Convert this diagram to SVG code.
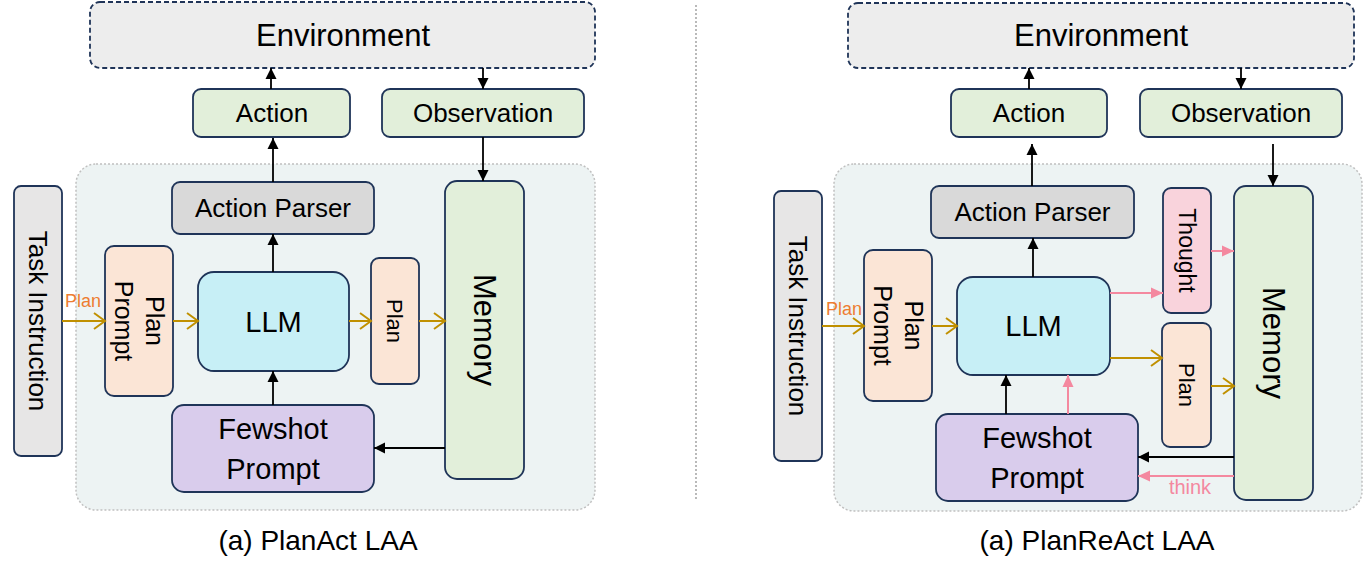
<svg xmlns="http://www.w3.org/2000/svg" width="1370" height="581" viewBox="0 0 1370 581">
<style>
text{font-family:"Liberation Sans",Arial,sans-serif;fill:#000;text-anchor:middle}
.box{stroke:#1F3458;stroke-width:1.8}
.env{fill:#EDEDED;stroke:#1F3458;stroke-width:1.8;stroke-dasharray:5 3}
.panel{fill:#EDF3F3;stroke:#C0C0C0;stroke-width:1.5;stroke-dasharray:2 2}
.green{fill:#E2EFDA}
.gray{fill:#D9D9D9}
.task{fill:#E7E6E6}
.peach{fill:#FBE5D6}
.cyan{fill:#C7EFF6}
.purple{fill:#D9CCEC}
.pink{fill:#F9D3DC}
.blk{stroke:#000;stroke-width:1.8;fill:none;marker-end:url(#ab)}
.gld{stroke:#C09000;stroke-width:2;fill:none;marker-end:url(#ag)}
.pnk{stroke:#F4889F;stroke-width:2;fill:none;marker-end:url(#ap)}
</style>
<defs>
<marker id="ab" markerUnits="userSpaceOnUse" markerWidth="12" markerHeight="12" viewBox="0 0 12 12" refX="11" refY="6" orient="auto"><path d="M0,0.5 L11,6 L0,11.5 Z" fill="#000"/></marker>
<marker id="ag" markerUnits="userSpaceOnUse" markerWidth="14" markerHeight="18" viewBox="0 0 14 18" refX="12" refY="9" orient="auto"><path d="M1,1 L12,9 L1,17" fill="none" stroke="#C09000" stroke-width="2"/></marker>
<marker id="ap" markerUnits="userSpaceOnUse" markerWidth="13" markerHeight="12" viewBox="0 0 13 12" refX="12" refY="6" orient="auto"><path d="M0,0.5 L12,6 L0,11.5 Z" fill="#F4889F"/></marker>
</defs>

<line x1="696" y1="5" x2="696" y2="500" stroke="#8C8C8C" stroke-width="1.2" stroke-dasharray="2 2"/>

<!-- Left panel -->
<rect class="panel" x="76" y="164" width="519" height="346" rx="20"/>
<g id="env-l"><rect class="env" x="90" y="2" width="505" height="66" rx="10"/><text x="343" y="46" font-size="31">Environment</text></g>
<g id="action-l"><rect class="box green" x="193" y="89" width="157" height="48" rx="8"/><text x="272" y="122" font-size="26">Action</text></g>
<g id="obs-l"><rect class="box green" x="382" y="89" width="202" height="48" rx="8"/><text x="483" y="122" font-size="26">Observation</text></g>
<g id="parser-l"><rect class="box gray" x="172" y="182" width="202" height="52" rx="8"/><text x="273" y="217" font-size="26">Action Parser</text></g>
<g id="memory-l"><rect class="box green" x="445" y="181" width="79" height="298" rx="12"/><text transform="translate(484.5,330) rotate(90)" x="0" y="11" font-size="31">Memory</text></g>
<g id="task-l"><rect class="box task" x="14" y="186" width="48" height="270" rx="7"/><text transform="translate(38,321) rotate(90)" x="0" y="9" font-size="26">Task Instruction</text></g>
<g id="planprompt-l"><rect class="box peach" x="105" y="246" width="68" height="150" rx="9"/><text transform="translate(139,321) rotate(90)" font-size="25"><tspan x="0" y="-7">Plan</tspan><tspan x="0" y="24">Prompt</tspan></text></g>
<g id="llm-l"><rect class="box cyan" x="198" y="272" width="151" height="99" rx="16"/><text x="273.5" y="332" font-size="29">LLM</text></g>
<g id="plan-l"><rect class="box peach" x="371" y="258" width="48" height="126" rx="8"/><text transform="translate(395,321) rotate(90)" x="0" y="8" font-size="22">Plan</text></g>
<g id="fewshot-l"><rect class="box purple" x="172" y="405" width="202" height="87" rx="12"/><text x="273" y="439" font-size="29">Fewshot</text><text x="273" y="479" font-size="29">Prompt</text></g>
<text x="83" y="307" font-size="18" style="fill:#ED7D31">Plan</text>
<text x="318" y="550" font-size="28">(a) PlanAct LAA</text>

<!-- Right panel -->
<rect class="panel" x="834" y="164" width="528" height="347" rx="20"/>
<g id="env-r"><rect class="env" x="848" y="3" width="506" height="65" rx="10"/><text x="1101" y="46" font-size="31">Environment</text></g>
<g id="action-r"><rect class="box green" x="951" y="89" width="156" height="48" rx="8"/><text x="1029" y="122" font-size="26">Action</text></g>
<g id="obs-r"><rect class="box green" x="1140" y="89" width="202" height="48" rx="8"/><text x="1241" y="122" font-size="26">Observation</text></g>
<g id="parser-r"><rect class="box gray" x="931" y="186" width="203" height="52" rx="8"/><text x="1032.5" y="221" font-size="26">Action Parser</text></g>
<g id="thought-r"><rect class="box pink" x="1163" y="188" width="48" height="125" rx="8"/><text transform="translate(1187,250.5) rotate(90)" x="0" y="8" font-size="23">Thought</text></g>
<g id="memory-r"><rect class="box green" x="1234" y="186" width="79" height="314" rx="12"/><text transform="translate(1273.5,343) rotate(90)" x="0" y="11" font-size="31">Memory</text></g>
<g id="task-r"><rect class="box task" x="774" y="191" width="48" height="270" rx="7"/><text transform="translate(798,326) rotate(90)" x="0" y="9" font-size="26">Task Instruction</text></g>
<g id="planprompt-r"><rect class="box peach" x="864" y="250" width="68" height="151" rx="9"/><text transform="translate(898,325.5) rotate(90)" font-size="25"><tspan x="0" y="-7">Plan</tspan><tspan x="0" y="24">Prompt</tspan></text></g>
<g id="llm-r"><rect class="box cyan" x="957" y="277" width="153" height="98" rx="16"/><text x="1033.5" y="336" font-size="29">LLM</text></g>
<g id="plan-r"><rect class="box peach" x="1162" y="323" width="49" height="124" rx="8"/><text transform="translate(1186.5,385) rotate(90)" x="0" y="8" font-size="22">Plan</text></g>
<g id="fewshot-r"><rect class="box purple" x="936" y="414" width="202" height="87" rx="12"/><text x="1037" y="448" font-size="29">Fewshot</text><text x="1037" y="488" font-size="29">Prompt</text></g>
<text x="844" y="315" font-size="18" style="fill:#ED7D31">Plan</text>
<text x="1190" y="494" font-size="20" style="fill:#F4889F">think</text>
<text x="1097" y="550" font-size="28">(a) PlanReAct LAA</text>

<g id="connectors">
<line class="blk" x1="271" y1="89" x2="271" y2="68"/>
<line class="blk" x1="483" y1="68" x2="483" y2="89"/>
<line class="blk" x1="273" y1="182" x2="273" y2="138"/>
<line class="blk" x1="483" y1="137" x2="483" y2="181"/>
<line class="blk" x1="273" y1="272" x2="273" y2="234"/>
<line class="blk" x1="273" y1="405" x2="273" y2="371"/>
<line class="blk" x1="445" y1="448" x2="374" y2="448"/>
<line class="gld" x1="62" y1="321" x2="105" y2="321"/>
<line class="gld" x1="173" y1="321" x2="198" y2="321"/>
<line class="gld" x1="349" y1="321" x2="371" y2="321"/>
<line class="gld" x1="419" y1="321" x2="445" y2="321"/>

<line class="blk" x1="1029" y1="89" x2="1029" y2="68"/>
<line class="blk" x1="1241" y1="68" x2="1241" y2="89"/>
<line class="blk" x1="1032" y1="186" x2="1032" y2="144"/>
<line class="blk" x1="1273" y1="144" x2="1273" y2="186"/>
<line class="blk" x1="1033" y1="277" x2="1033" y2="238"/>
<line class="pnk" x1="1110" y1="293" x2="1163" y2="293"/>
<line class="pnk" x1="1211" y1="251" x2="1234" y2="251"/>
<line class="gld" x1="1110" y1="358" x2="1162" y2="358"/>
<line class="gld" x1="1211" y1="386" x2="1234" y2="386"/>
<line class="gld" x1="822" y1="326" x2="864" y2="326"/>
<line class="gld" x1="932" y1="326" x2="957" y2="326"/>
<line class="blk" x1="1006" y1="414" x2="1006" y2="375"/>
<line class="pnk" x1="1068" y1="414" x2="1068" y2="375"/>
<line class="blk" x1="1234" y1="457" x2="1138" y2="457"/>
<line class="pnk" x1="1234" y1="476" x2="1138" y2="476"/>
</g>
</svg>
